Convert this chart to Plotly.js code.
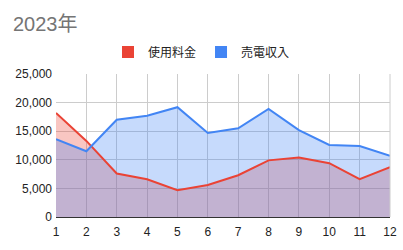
<!DOCTYPE html>
<html><head><meta charset="utf-8">
<script src="https://cdn.plot.ly/plotly-3.0.1.min.js"></script>
<style>html,body{margin:0;padding:0;background:#fff}#chart{width:403px;height:250px}</style>
</head><body><div id="chart"></div>
<script>
const months = [1,2,3,4,5,6,7,8,9,10,11,12];
const usageFee = [18200,13300,7600,6600,4700,5600,7300,9900,10400,9400,6600,8700];
const sellIncome = [13600,11500,17000,17700,19200,14700,15500,18900,15200,12600,12400,10700];
const seriesNames = ['使用料金','売電収入'];
const seriesColors = ['#ea4335','#4285f4'];
const fills = ['rgba(234,67,53,0.3)','rgba(66,133,244,0.3)'];
const yTicks = [0,5000,10000,15000,20000,25000];

const font = 'Liberation Sans, Arial, Noto Sans CJK JP, sans-serif';
const series = [usageFee, sellIncome];
const data = [];
series.forEach((vals,i)=>data.push({
  type:'scatter', mode:'none', x:months, y:vals, fill:'tozeroy',
  fillcolor:fills[i], showlegend:false, hoverinfo:'skip'
}));
series.forEach((vals,i)=>data.push({
  type:'scatter', mode:'lines', x:months, y:vals,
  line:{color:seriesColors[i], width:2}, showlegend:false, hoverinfo:'skip'
}));
seriesNames.forEach((n,i)=>data.push({
  type:'bar', x:[null], y:[null], name:n, marker:{color:seriesColors[i]}, showlegend:true
}));

const layout = {
  width:403, height:250,
  margin:{l:56, r:13, t:74, b:33},
  paper_bgcolor:'#fff', plot_bgcolor:'#fff',
  font:{family:font, size:12, color:'#222'},
  title:{text:'2023年', x:13/403, xanchor:'left', xref:'container', y:1-24/250, yanchor:'middle', yref:'container',
    font:{family:font, size:20, color:'#757575'}},
  showlegend:true,
  legend:{orientation:'h', x:0.5, xref:'container', xanchor:'center', y:1-52/250, yref:'container', yanchor:'middle',
    font:{family:font, size:12, color:'#222'}, itemwidth:30, traceorder:'normal'},
  xaxis:{range:[1,12], tickvals:months, ticktext:months.map(String), showgrid:true, gridcolor:'#cccccc',
    zeroline:false, showline:false, ticks:'', ticklabelstandoff:6, tickfont:{size:12, color:'#222'}, fixedrange:true},
  yaxis:{range:[0,25000], tickvals:yTicks, tickformat:',', showgrid:true, gridcolor:'#cccccc',
    zeroline:true, zerolinecolor:'#333', zerolinewidth:1, showline:false, ticks:'', ticklabelstandoff:3, tickfont:{size:12, color:'#222'}, fixedrange:true},
  shapes:[{type:'line', xref:'paper', yref:'paper', x0:1, x1:1, y0:0, y1:1, line:{color:'#cccccc', width:1}}]
};
Plotly.newPlot('chart', data, layout, {displayModeBar:false, staticPlot:true});
</script></body></html>
